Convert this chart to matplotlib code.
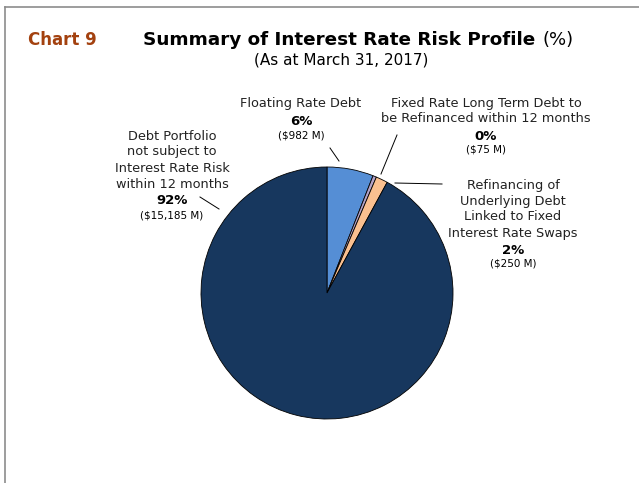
import matplotlib.pyplot as plt
from matplotlib.lines import Line2D

# debt amounts, $ millions
labels = ['Floating Rate Debt',
          'Fixed Rate Long Term Debt to\nbe Refinanced within 12 months',
          'Refinancing of\nUnderlying Debt\nLinked to Fixed\nInterest Rate Swaps',
          'Debt Portfolio\nnot subject to\nInterest Rate Risk\nwithin 12 months']
amounts = [982, 75, 250, 15185]
colors = ['#558ED5', '#B3A2C7', '#FAC090', '#17375E']

W, H = 639, 483
fig = plt.figure(figsize=(W / 100, H / 100), dpi=100)


def fx(x):
    return x / W


def fy(y):
    return 1 - y / H


# pie placed by centre and radius in pixels
cx, cy, r = 327, 293, 126
ax = fig.add_axes([fx(cx - r), fy(cy + r), 2 * r / W, 2 * r / H])
ax.pie(amounts, colors=colors, startangle=90, counterclock=False,
       wedgeprops=dict(edgecolor='black', linewidth=0.6))
ax.set_xlim(-1, 1)
ax.set_ylim(-1, 1)
ax.set_aspect('auto')
ax.axis('off')

# panel border (top and left)
fig.add_artist(Line2D([fx(5), fx(639)], [fy(7), fy(7)], color='#8c8c8c', lw=1.2))
fig.add_artist(Line2D([fx(5), fx(5)], [fy(7), fy(483)], color='#8c8c8c', lw=1.2))

fig.text(fx(28), fy(40), 'Chart 9', color='#A3410F', fontsize=12,
         fontweight='bold', va='center')
fig.text(fx(143), fy(40), 'Summary of Interest Rate Risk Profile', fontsize=13.2,
         fontweight='bold', va='center')
fig.text(fx(542), fy(40), '(%)', fontsize=13, va='center')
fig.text(fx(341), fy(60), '(As at March 31, 2017)', fontsize=11,
         ha='center', va='center')

total = sum(amounts)
pcts = ['%d%%' % round(a / total * 100) for a in amounts]
money = ['($%s M)' % format(a, ',') for a in amounts]

# label block: centre x, y of the first line
spots = [(301, 104), (486, 103), (513, 185), (172, 136)]
line_h = 16
for lab, pct, m, (x, y) in zip(labels, pcts, money, spots):
    rows = lab.split('\n')
    step = 15 if len(rows) == 2 else line_h
    for i, row in enumerate(rows):
        fig.text(fx(x), fy(y + i * step), row, fontsize=9.3, ha='center',
                 va='center', color='#222222')
    ty = y + len(rows) * line_h + 1
    fig.text(fx(x), fy(ty), pct, fontsize=9.5, fontweight='bold', ha='center',
             va='center')
    fig.text(fx(x), fy(ty + 14), m, fontsize=7.5, ha='center', va='center')

# leader lines
leaders = [((330, 148), (339, 161)),
           ((397, 135), (381, 174)),
           ((442, 184), (395, 183)),
           ((200, 197), (219, 209))]
for (x0, y0), (x1, y1) in leaders:
    fig.add_artist(Line2D([fx(x0), fx(x1)], [fy(y0), fy(y1)],
                          color='black', lw=0.7))

plt.savefig('out.png', dpi=100)
